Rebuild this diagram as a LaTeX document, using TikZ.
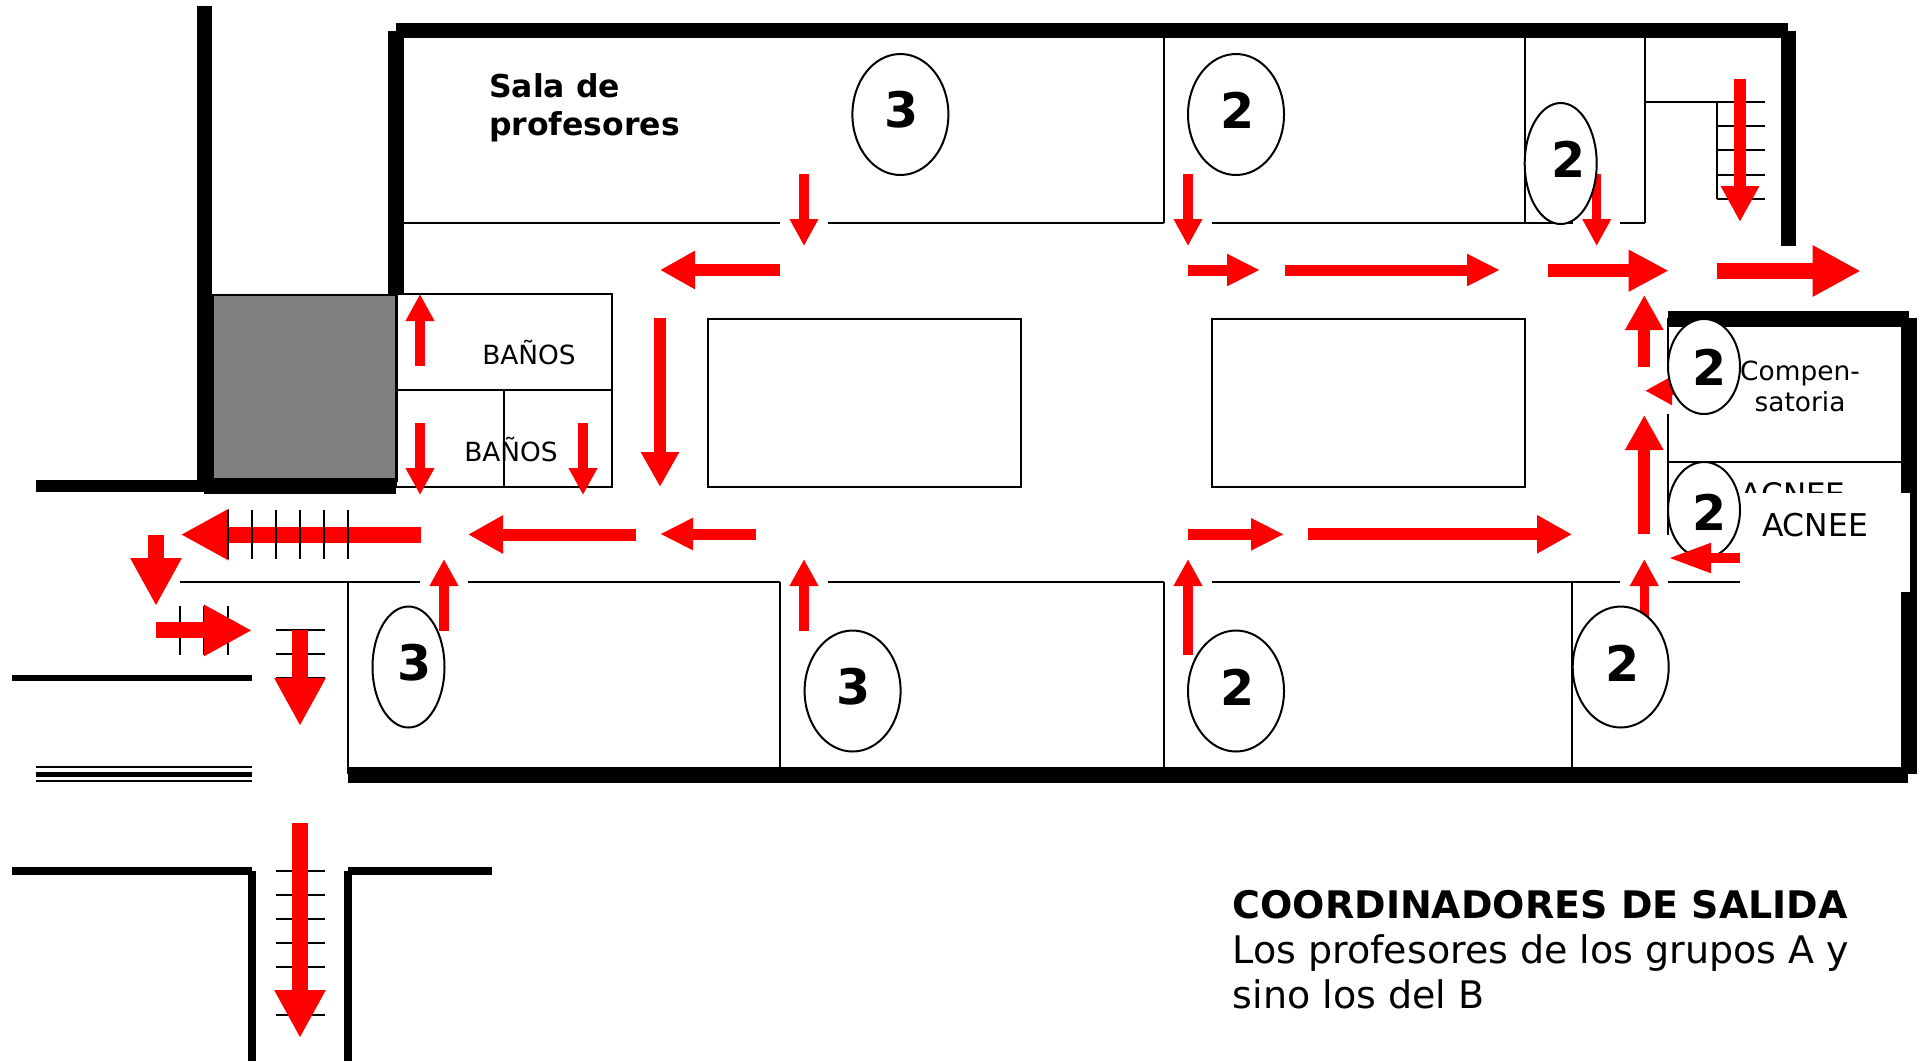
\documentclass[tikz,border=0pt]{standalone}
\usepackage{fontspec}
\setmainfont{DejaVu Sans}
\usetikzlibrary{positioning,shapes.geometric,arrows.meta}
\tikzset{
  muro/.style={line width=#1pt, draw=black},
  muro/.default=15.5,
  tabique/.style={line width=2pt, draw=black},
  flecha/.style n args={3}{line width=#1pt, draw=red, -{Triangle[length=#2pt,width=#3pt]}},
  flechaS/.style={flecha={9.5}{27}{27}},
  flechaB/.style={flecha={11}{33}{30}},
  flechaM/.style={flecha={12}{35}{36}},
  flechaG/.style={flecha={13}{40}{39}},
  flechaL/.style={flecha={16}{48}{48}},
  sala/.style={draw=black, line width=2pt, fill=white, ellipse, inner sep=0pt, outer sep=0pt},
  cifra/.style={font=\bfseries\fontsize{49}{49}\selectfont, inner sep=0pt},
  rotulo/.style={font=\fontsize{26.4}{31}\selectfont, inner sep=0pt, align=center},
}
\begin{document}
\begin{tikzpicture}[x=1pt,y=-1pt]
  \useasboundingbox (0,0) rectangle (1921,1061);
  \node[name=aseo, draw=black, line width=2pt, fill=black!50, minimum width=184pt, minimum height=186pt, inner sep=0pt, anchor=north west] at (212,294) {};

  % exterior walls
  \draw[muro] (204.5,6) -- (204.5,486);
  \draw[muro=12] (36,486) -- (204,486);
  \draw[muro=16] (204,486) -- (396,486);
  \draw[muro] (396,30.7) -- (396,294);
  \draw[muro] (396.4,30.5) -- (1788,30.5);
  \draw[muro] (1788.5,30.7) -- (1788.5,246);
  \draw[muro=16] (1668,318.7) -- (1909,318.7);
  \draw[muro=16] (1908.7,318) -- (1908.7,774);
  \draw[muro=16] (348,774.7) -- (1908,774.7);
  \draw[muro=6] (12,678) -- (252,678);
  \draw[line width=2pt] (36,767.3) -- (252,767.3);
  \draw[line width=5.4pt] (36,774.7) -- (252,774.7);
  \draw[line width=2.4pt] (36,781.2) -- (252,781.2);
  \draw[muro=8] (12,871) -- (252,871);
  \draw[muro=8] (252,871) -- (252,1061);
  \draw[muro=8] (348,871) -- (492,871);
  \draw[muro=8] (348,871) -- (348,1061);

  % rooms
  \draw[tabique] (388,222.5) -- (780,222.5);
  \draw[tabique] (828,222.5) -- (1164,222.5) (1164,30) -- (1164,222.5);
  \draw[tabique] (1212,222.5) -- (1573,222.5) (1524.7,30) -- (1524.7,222.5);
  \draw[tabique] (1620,222.5) -- (1645,222.5) (1645,30) -- (1645,222.5);
  \draw[tabique] (1645,102) -- (1765,102);
  \draw[tabique] (1716.7,102) -- (1716.7,199);
  \foreach \y in {102,126,150,175,199}
    \draw[tabique] (1717,\y) -- (1765,\y);
  \draw[tabique] (396,294) rectangle (612,487);
  \draw[tabique] (396,390) -- (612,390) (504,390) -- (504,487);
  \node[name=aulaA, draw=black, line width=2pt, minimum width=313pt, minimum height=168.5pt, inner sep=0pt, anchor=north west] at (707,317.7) {};
  \node[name=aulaB, draw=black, line width=2pt, minimum width=313pt, minimum height=168.5pt, inner sep=0pt, anchor=north west] at (1211,317.7) {};
  \draw[tabique] (180,582) -- (420,582);
  \draw[tabique] (468,582) -- (780,582);
  \draw[tabique] (828,582) -- (1164,582);
  \draw[tabique] (1212,582) -- (1620,582);
  \draw[tabique] (1668,582) -- (1740,582);
  \foreach \x in {348,780,1164,1572}
    \draw[tabique] (\x,582) -- (\x,774);
  \draw[tabique] (1668,318) -- (1668,366) (1668,414) -- (1668,535);
  \draw[tabique] (1668,462) -- (1901,462);

  % stairs
  \foreach \x in {180,204,228}
    \draw[tabique] (\x,606) -- (\x,654.5);
  \foreach \y in {630,654,678}
    \draw[tabique] (276,\y) -- (325,\y);
  \foreach \y in {871,895,919,943,967,991,1015}
    \draw[tabique] (276,\y) -- (325,\y);

  % texts under the arrows
  \node[name=sala, font=\bfseries\fontsize{31.5}{38}\selectfont, inner sep=0pt, align=left, anchor=north west] at (489,73) {Sala de\\profesores};
  \node[name=banosA, rotulo] at (529,353) {BAÑOS};
  \node[name=banosB, rotulo] at (511,450) {BAÑOS};
  \node[name=compen, rotulo] at (1800,386) {Compen-\\satoria};
  \node[name=acneeA, font=\fontsize{31}{31}\selectfont, inner sep=0pt] at (1793,494) {ACNEE};
  \fill[white] (1740,493) rectangle (1910,591.7);
  \node[name=acneeB, font=\fontsize{31.4}{31}\selectfont, inner sep=0pt] at (1815,525.5) {ACNEE};

  % arrows
  \draw[flechaS] (804,174) -- (804,246);
  \draw[flechaM] (780,270) -- (660,270);
  \draw[flechaS] (1188,174) -- (1188,246);
  \draw[flechaB] (1188,270) -- (1260,270);
  \draw[flechaB] (1285,270) -- (1500,270);
  \draw[flechaS] (1596.7,174) -- (1596.7,246);
  \draw[flechaG] (1548,270.7) -- (1668.7,270.7);
  \draw[flechaL] (1716.7,271) -- (1860.7,271);
  \draw[flecha={12.5}{36}{36}] (1740,78.7) -- (1740,222);
  \draw[flechaM] (1644.3,366.7) -- (1644.3,295);
  \draw[flechaS] (1690,390.7) -- (1645,390.7);
  \draw[flechaM] (1644.3,534.3) -- (1644.3,415);
  \draw[flechaS] (1644.3,631) -- (1644.3,559);
  \draw[flechaL] (420.7,534.6) -- (180.7,534.6);
  \foreach \x in {228,252,276,300,324,348}
    \draw[tabique] (\x,510) -- (\x,559);
  \draw[flechaM] (636,534.5) -- (468,534.5);
  \draw[flechaB] (756,534) -- (660,534);
  \draw[flechaS] (804,631) -- (804,559);
  \draw[flechaS] (444,631) -- (444,559);
  \draw[flechaS] (1188,655) -- (1188,559);
  \draw[flechaB] (1188,534.3) -- (1284,534.3);
  \draw[flechaM] (1308,534.3) -- (1572,534.3);
  \draw[flechaS] (420,366) -- (420,294);
  \draw[flechaS] (420,423) -- (420,495);
  \draw[flechaS] (583,423) -- (583,495);
  \draw[flechaM] (660,318) -- (660,487);
  \draw[flechaL] (156,534.6) -- (156,606);
  \draw[flechaL] (156,630.4) -- (252,630.4);
  \draw[flechaL] (300,630) -- (300,726);
  \draw[flechaL] (300,823) -- (300,1038);

  % coordinators
  \foreach \name/\x/\y/\w/\h in {eA/900.4/114.5/96/121, eB/1236/114.5/96/121, eC/1560.7/163.5/72/121,
      eD/408.5/667/72/121, eE/852.6/691/96/121, eF/1236/691/96/121, eG/1620.7/667/96/121,
      eH/1704/366.5/72/95, eI/1704/510/72/96}
    \node[name=\name, sala, minimum width=\w pt, minimum height=\h pt] at (\x,\y) {};
  \node[name=nA, cifra] at (901.5,110) {3};
  \node[name=nB, cifra] at (1237.5,110) {2};
  \node[name=nC, cifra] at (1568.5,159) {2};
  \node[name=nD, cifra] at (414.5,663) {3};
  \node[name=nE, cifra] at (853.6,687) {3};
  \node[name=nF, cifra] at (1237.5,687) {2};
  \node[name=nG, cifra] at (1622.2,663) {2};
  \node[name=nH, cifra] at (1710,367) {2};
  \node[name=nI, cifra] at (1710,512) {2};
  \draw[flecha={9.3}{43}{27.5}] (1740,558) -- (1668,558);

  \node[name=leyenda, inner sep=0pt, align=left, anchor=north west, font=\fontsize{38}{45}\selectfont] at (1232.5,890) {\textbf{COORDINADORES DE SALIDA}\\Los profesores de los grupos A y\\sino los del B};
\end{tikzpicture}
\end{document}
